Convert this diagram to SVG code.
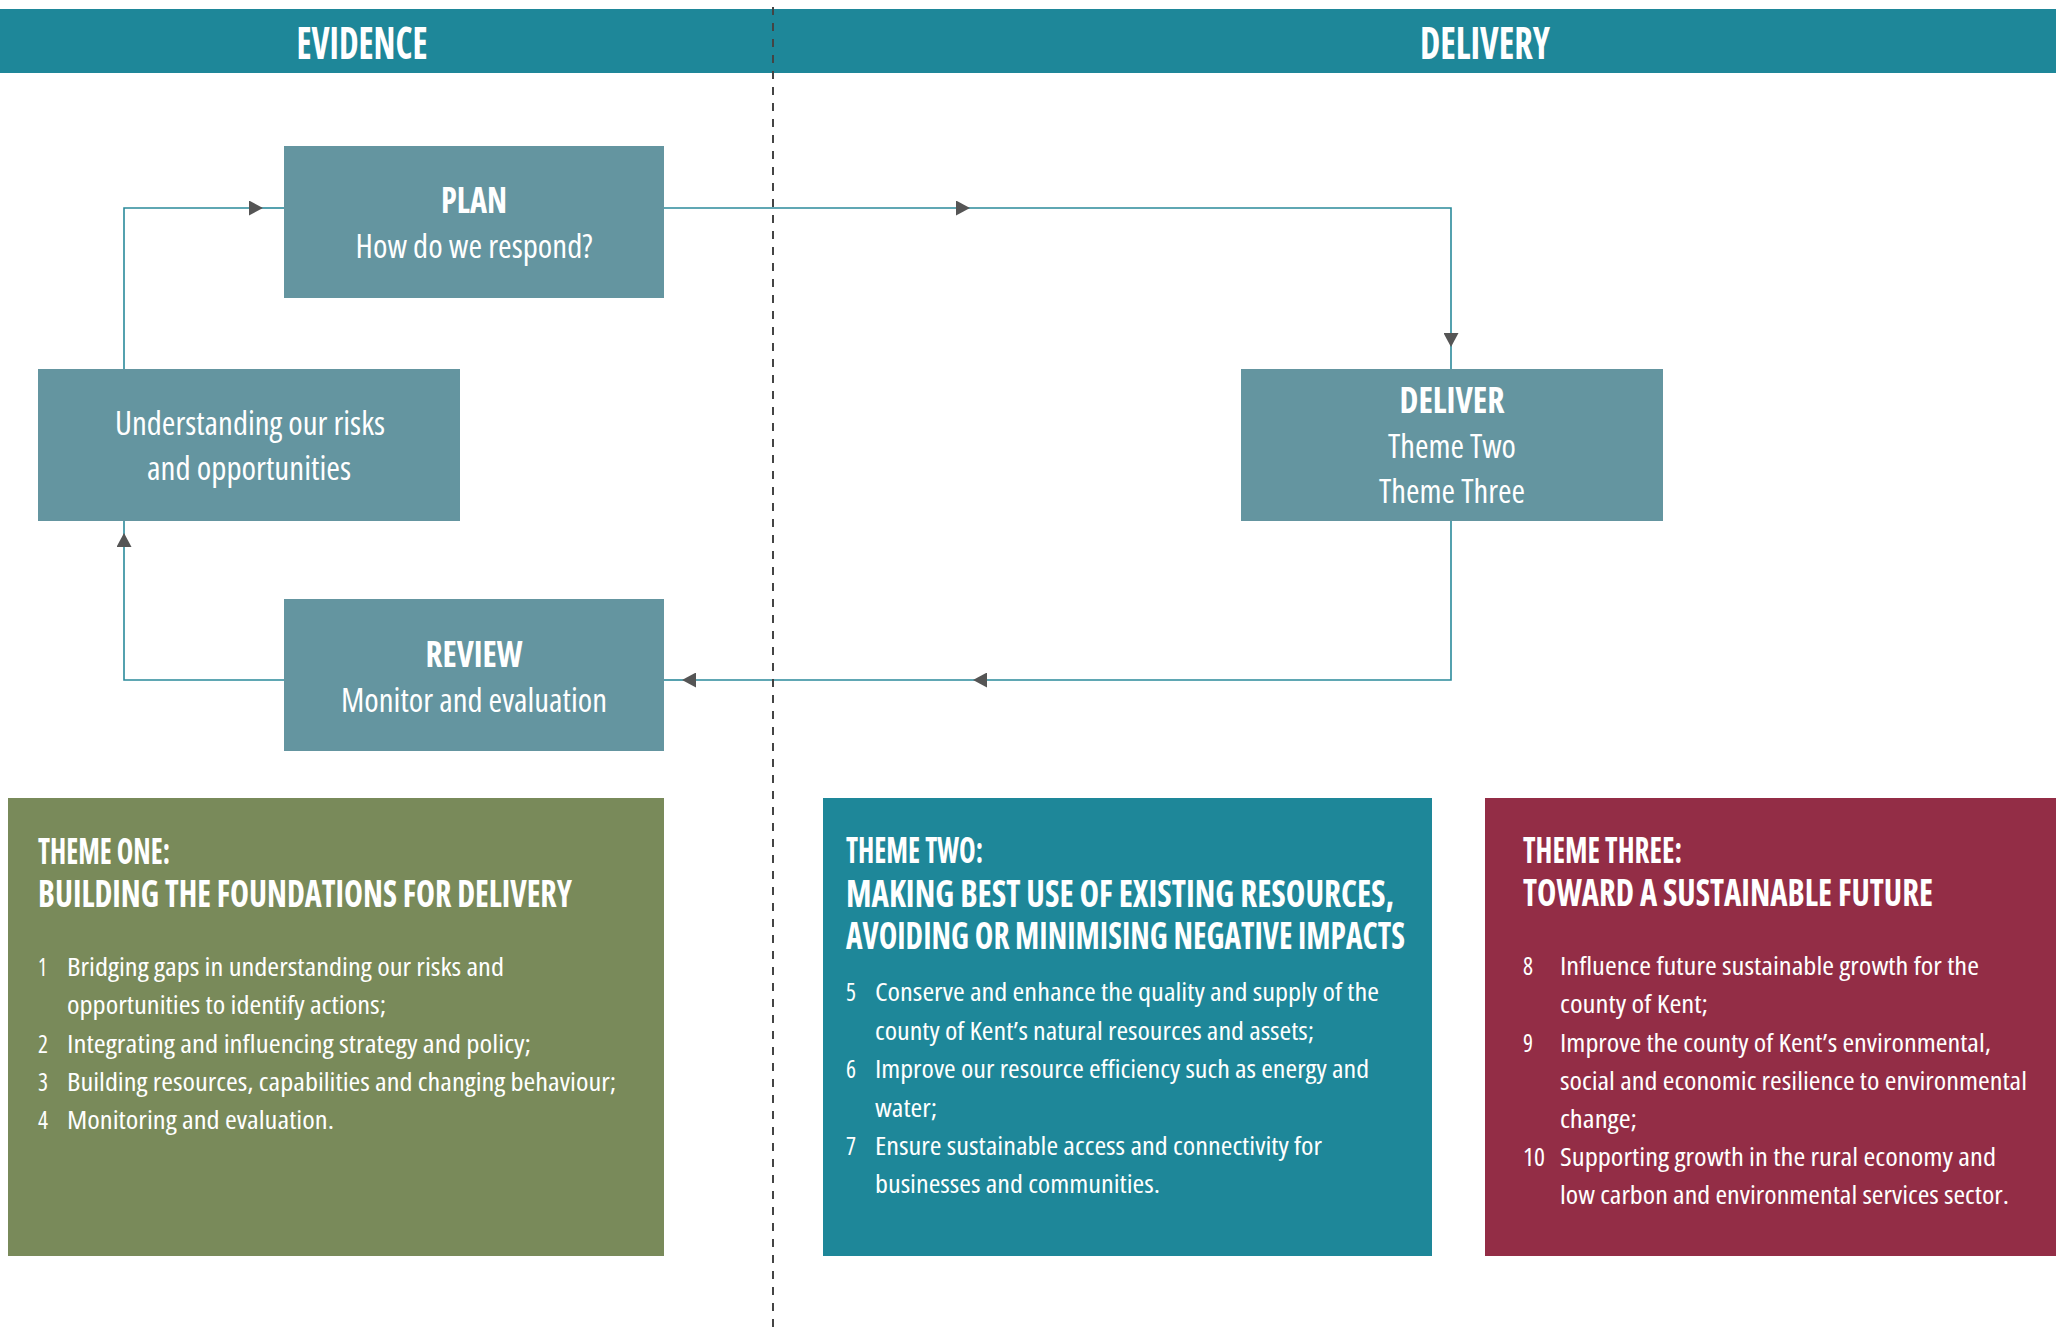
<svg xmlns="http://www.w3.org/2000/svg" width="2056" height="1328" viewBox="0 0 2056 1328">
<style>
.band{fill:#1e8799}
.node{fill:#6495a0}
text{font-stretch:condensed}
.hdr{font-family:"Open Sans","Liberation Sans",sans-serif;font-weight:700;font-size:44px;fill:#ffffff;text-anchor:middle}
.nb{font-family:"Open Sans","Liberation Sans",sans-serif;font-weight:700;font-size:35px;fill:#ffffff;text-anchor:middle}
.nr{font-family:"Open Sans","Liberation Sans",sans-serif;font-weight:400;font-size:33px;fill:#ffffff;text-anchor:middle}
.h1{font-family:"Open Sans","Liberation Sans",sans-serif;font-weight:700;font-size:35px;fill:#ffffff}
.h2{font-family:"Open Sans","Liberation Sans",sans-serif;font-weight:700;font-size:38px;fill:#ffffff}
.bt{font-family:"Open Sans","Liberation Sans",sans-serif;font-weight:400;font-size:26px;fill:#ffffff}
.conn{fill:none;stroke:#2b8a9b;stroke-width:1.6}
.divider{stroke:#444444;stroke-width:2;stroke-dasharray:8 8;fill:none}
</style>
<defs>
<marker id="arr" markerUnits="userSpaceOnUse" markerWidth="15" markerHeight="15" viewBox="0 0 14 15" refX="14" refY="7.5" orient="auto">
<path d="M0,0 L14,7.5 L0,15 z" fill="#555555"/>
</marker>
</defs>
<rect width="2056" height="1328" fill="#ffffff"/>
<g id="header">
<rect class="band" x="0" y="9" width="2056" height="64"/>
<text class="hdr" x="362" y="59" textLength="131" lengthAdjust="spacingAndGlyphs">EVIDENCE</text>
<text class="hdr" x="1485" y="59" textLength="130" lengthAdjust="spacingAndGlyphs">DELIVERY</text>
</g>
<g id="connectors">
<path class="conn" d="M124,369 V208 H263" marker-end="url(#arr)"/>
<path class="conn" d="M263,208 H284"/>
<path class="conn" d="M664,208 H970" marker-end="url(#arr)"/>
<path class="conn" d="M970,208 H1451 V347" marker-end="url(#arr)"/>
<path class="conn" d="M1451,347 V369"/>
<path class="conn" d="M1451,521 V680 H973" marker-end="url(#arr)"/>
<path class="conn" d="M973,680 H682" marker-end="url(#arr)"/>
<path class="conn" d="M682,680 H664"/>
<path class="conn" d="M284,680 H124 V533" marker-end="url(#arr)"/>
<path class="conn" d="M124,533 V521"/>
</g>
<g id="plan">
<rect class="node" x="284" y="146" width="380" height="152"/>
<text class="nb" x="474" y="213" textLength="66" lengthAdjust="spacingAndGlyphs">PLAN</text>
<text class="nr" x="474" y="258" textLength="237" lengthAdjust="spacingAndGlyphs">How do we respond?</text>
</g>
<g id="understanding">
<rect class="node" x="38" y="369" width="422" height="152"/>
<text class="nr" x="250" y="435" textLength="270" lengthAdjust="spacingAndGlyphs">Understanding our risks</text>
<text class="nr" x="249" y="480" textLength="204" lengthAdjust="spacingAndGlyphs">and opportunities</text>
</g>
<g id="deliver">
<rect class="node" x="1241" y="369" width="422" height="152"/>
<text class="nb" x="1452" y="413" textLength="105" lengthAdjust="spacingAndGlyphs">DELIVER</text>
<text class="nr" x="1452" y="458" textLength="128" lengthAdjust="spacingAndGlyphs">Theme Two</text>
<text class="nr" x="1452" y="503" textLength="146" lengthAdjust="spacingAndGlyphs">Theme Three</text>
</g>
<g id="review">
<rect class="node" x="284" y="599" width="380" height="152"/>
<text class="nb" x="474" y="667" textLength="97" lengthAdjust="spacingAndGlyphs">REVIEW</text>
<text class="nr" x="474" y="712" textLength="266" lengthAdjust="spacingAndGlyphs">Monitor and evaluation</text>
</g>
<g id="theme-one">
<rect x="8" y="798" width="656" height="458" fill="#798a5a"/>
<text class="h1" x="38" y="864" textLength="132" lengthAdjust="spacingAndGlyphs">THEME ONE:</text>
<text class="h2" x="38" y="907" textLength="534" lengthAdjust="spacingAndGlyphs">BUILDING THE FOUNDATIONS FOR DELIVERY</text>
<text class="bt" x="38" y="976" textLength="9" lengthAdjust="spacingAndGlyphs">1</text>
<text class="bt" x="67" y="976" textLength="437" lengthAdjust="spacingAndGlyphs">Bridging gaps in understanding our risks and</text>
<text class="bt" x="67" y="1014" textLength="319" lengthAdjust="spacingAndGlyphs">opportunities to identify actions;</text>
<text class="bt" x="38" y="1053" textLength="10" lengthAdjust="spacingAndGlyphs">2</text>
<text class="bt" x="67" y="1053" textLength="464" lengthAdjust="spacingAndGlyphs">Integrating and influencing strategy and policy;</text>
<text class="bt" x="38" y="1091" textLength="10" lengthAdjust="spacingAndGlyphs">3</text>
<text class="bt" x="67" y="1091" textLength="549" lengthAdjust="spacingAndGlyphs">Building resources, capabilities and changing behaviour;</text>
<text class="bt" x="38" y="1129" textLength="10" lengthAdjust="spacingAndGlyphs">4</text>
<text class="bt" x="67" y="1129" textLength="267" lengthAdjust="spacingAndGlyphs">Monitoring and evaluation.</text>
</g>
<g id="theme-two">
<rect x="823" y="798" width="609" height="458" fill="#1e8799"/>
<text class="h1" x="846" y="863" textLength="137" lengthAdjust="spacingAndGlyphs">THEME TWO:</text>
<text class="h2" x="846" y="907" textLength="548" lengthAdjust="spacingAndGlyphs">MAKING BEST USE OF EXISTING RESOURCES,</text>
<text class="h2" x="846" y="949" textLength="559" lengthAdjust="spacingAndGlyphs">AVOIDING OR MINIMISING NEGATIVE IMPACTS</text>
<text class="bt" x="846" y="1001" textLength="10" lengthAdjust="spacingAndGlyphs">5</text>
<text class="bt" x="875" y="1001" textLength="504" lengthAdjust="spacingAndGlyphs">Conserve and enhance the quality and supply of the</text>
<text class="bt" x="875" y="1040" textLength="439" lengthAdjust="spacingAndGlyphs">county of Kent’s natural resources and assets;</text>
<text class="bt" x="846" y="1078" textLength="10" lengthAdjust="spacingAndGlyphs">6</text>
<text class="bt" x="875" y="1078" textLength="494" lengthAdjust="spacingAndGlyphs">Improve our resource efficiency such as energy and</text>
<text class="bt" x="875" y="1117" textLength="62" lengthAdjust="spacingAndGlyphs">water;</text>
<text class="bt" x="846" y="1155" textLength="10" lengthAdjust="spacingAndGlyphs">7</text>
<text class="bt" x="875" y="1155" textLength="447" lengthAdjust="spacingAndGlyphs">Ensure sustainable access and connectivity for</text>
<text class="bt" x="875" y="1193" textLength="285" lengthAdjust="spacingAndGlyphs">businesses and communities.</text>
</g>
<g id="theme-three">
<rect x="1485" y="798" width="571" height="458" fill="#932d46"/>
<text class="h1" x="1523" y="863" textLength="159" lengthAdjust="spacingAndGlyphs">THEME THREE:</text>
<text class="h2" x="1523" y="906" textLength="410" lengthAdjust="spacingAndGlyphs">TOWARD A SUSTAINABLE FUTURE</text>
<text class="bt" x="1523" y="975" textLength="10" lengthAdjust="spacingAndGlyphs">8</text>
<text class="bt" x="1560" y="975" textLength="419" lengthAdjust="spacingAndGlyphs">Influence future sustainable growth for the</text>
<text class="bt" x="1560" y="1013" textLength="148" lengthAdjust="spacingAndGlyphs">county of Kent;</text>
<text class="bt" x="1523" y="1052" textLength="10" lengthAdjust="spacingAndGlyphs">9</text>
<text class="bt" x="1560" y="1052" textLength="431" lengthAdjust="spacingAndGlyphs">Improve the county of Kent’s environmental,</text>
<text class="bt" x="1560" y="1090" textLength="467" lengthAdjust="spacingAndGlyphs">social and economic resilience to environmental</text>
<text class="bt" x="1560" y="1128" textLength="77" lengthAdjust="spacingAndGlyphs">change;</text>
<text class="bt" x="1523" y="1166" textLength="22" lengthAdjust="spacingAndGlyphs">10</text>
<text class="bt" x="1560" y="1166" textLength="436" lengthAdjust="spacingAndGlyphs">Supporting growth in the rural economy and</text>
<text class="bt" x="1560" y="1204" textLength="449" lengthAdjust="spacingAndGlyphs">low carbon and environmental services sector.</text>
</g>
<line id="divider" class="divider" x1="773" y1="7" x2="773" y2="1328"/>
</svg>
